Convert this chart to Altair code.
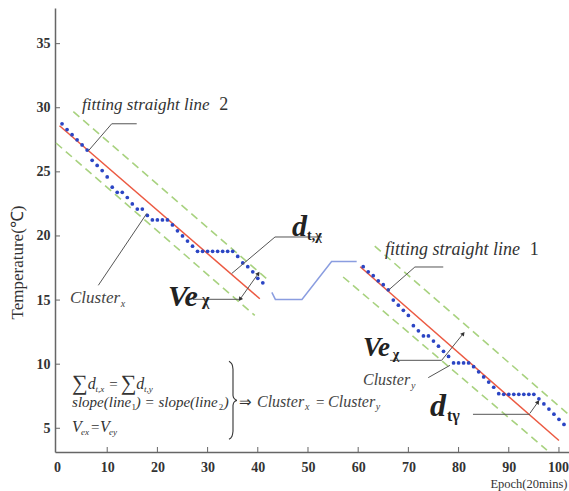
import altair as alt
import pandas as pd

# ---------------- data ----------------
epoch_x = list(range(1, 42))
temp_x = [28.75, 28.3, 27.9, 27.5, 27.1, 26.7, 25.9, 25.5, 25.1, 24.6,
          23.8, 23.4, 23.4, 23.0, 22.5, 22.1, 22.1, 21.6, 21.25, 21.25,
          21.25, 21.25, 20.86, 20.4, 20.0, 19.6, 19.2, 18.8, 18.8, 18.8,
          18.8, 18.8, 18.8, 18.8, 18.8, 18.4, 17.9, 17.6, 17.2, 16.7, 16.35]
epoch_y = list(range(61, 102))
temp_y = [17.6, 17.2, 16.9, 16.5, 16.2, 15.8, 15.0, 14.6, 14.2, 13.8,
          13.0, 12.6, 12.2, 12.2, 11.8, 11.4, 11.0, 10.6, 10.1, 10.1,
          10.1, 10.1, 9.8, 9.4, 9.0, 8.6, 8.2, 7.7, 7.65, 7.65,
          7.65, 7.65, 7.65, 7.65, 7.65, 7.3, 6.9, 6.5, 6.1, 5.7, 5.3]
gap_epoch = [42.8, 43.5, 48.8, 54.7, 59.7]
gap_temp = [15.6, 15.05, 15.05, 18.0, 18.0]

fit2_epoch = [0.5, 40.4]
fit2_temp = [28.6, 15.1]
fit1_epoch = [60.4, 100.0]
fit1_temp = [17.6, 4.05]
band2_up_epoch = [3.25, 42.1]
band2_up_temp = [29.7, 16.55]
band2_lo_epoch = [-0.2, 39.4]
band2_lo_temp = [27.25, 13.8]
band1_up_epoch = [63.3, 102.0]
band1_up_temp = [19.2, 6.05]
band1_lo_epoch = [57.0, 97.6]
band1_lo_temp = [16.8, 3.3]

x_ticks = [0, 10, 20, 30, 40, 50, 60, 70, 80, 90, 100]
y_ticks = [5, 10, 15, 20, 25, 30, 35]

W, H = 514, 444
FONT = "Liberation Serif"
xs = alt.Scale(domain=[-0.4, 102.0], nice=False, zero=False)
ys = alt.Scale(domain=[3.15, 37.78], nice=False, zero=False)


def X(f="x"):
    return alt.X(f + ":Q", scale=xs, axis=None)


def Y(f="y"):
    return alt.Y(f + ":Q", scale=ys, axis=None)


def line(ex, ty, color, width=1.5, dash=None):
    kw = dict(color=color, strokeWidth=width)
    if dash:
        kw["strokeDash"] = dash
    return alt.Chart(pd.DataFrame({"x": ex, "y": ty})).mark_line(**kw).encode(x=X(), y=Y())


GREEN = "#a8d27f"
RED = "#ec5a42"
dots_df = pd.DataFrame({"x": epoch_x + epoch_y, "y": temp_x + temp_y})
axis_common = dict(grid=False, ticks=False, domainColor="#666", domainWidth=1.5,
                   labelFont=FONT, labelFontSize=14, labelFontWeight="bold",
                   labelColor="#333", titleFont=FONT, titleColor="#333",
                   titleFontWeight="normal")
dots = alt.Chart(dots_df).mark_circle(size=14, color="#2b45c4", opacity=1).encode(
    x=alt.X("x:Q", scale=xs, axis=alt.Axis(
        values=x_ticks, title="Epoch(20mins)", labelPadding=8, labelFlush=False,
        labelOffset=alt.expr("datum.value === 100 ? -1 : 0"),
        titleFontSize=12.5, titleX=512, titleY=35, titleAlign="right",
        titleBaseline="alphabetic", **axis_common)),
    y=alt.Y("y:Q", scale=ys, axis=alt.Axis(
        values=y_ticks, title="Temperature(℃)", labelPadding=5, labelFlush=False,
        titleFontSize=17, titleX=-38, titleY=254, titleAngle=270,
        titleAlign="center", titleBaseline="middle", **axis_common)),
)

layers = [
    line(band2_up_epoch, band2_up_temp, GREEN, 1.6, [8, 5]),
    line(band2_lo_epoch, band2_lo_temp, GREEN, 1.6, [8, 5]),
    line(band1_up_epoch, band1_up_temp, GREEN, 1.6, [8, 5]),
    line(band1_lo_epoch, band1_lo_temp, GREEN, 1.6, [8, 5]),
    line(fit2_epoch, fit2_temp, RED, 1.5),
    line(fit1_epoch, fit1_temp, RED, 1.5),
    line(gap_epoch, gap_temp, "#8a9de0", 1.5),
    dots,
]

# inward tick marks
layers.append(alt.Chart(pd.DataFrame({"v": x_ticks[1:]})).mark_rule(color="#666", strokeWidth=1)
              .encode(x=X("v"), y=alt.value(H), y2=alt.value(H - 5)))
layers.append(alt.Chart(pd.DataFrame({"v": y_ticks})).mark_rule(color="#666", strokeWidth=1)
              .encode(y=Y("v"), x=alt.value(0), x2=alt.value(5)))

# leader lines (data coordinates)
seg_x = [6.23, 10.9, 8.23, 34.8, 43.43, 27.09, 36.45, 66.0, 71.3, 66.33, 76.63, 73.96, 82.87, 94.22]
seg_y = [26.63, 28.75, 16.15, 17.07, 19.92, 15.06, 15.06, 15.76, 17.58, 10.30, 10.30, 8.95, 6.09, 6.17]
seg_x2 = [10.9, 15.88, 17.87, 43.43, 52.8, 36.45, 40.1, 71.3, 76.95, 76.63, 80.94, 78.29, 94.22, 95.82]
seg_y2 = [28.75, 28.75, 21.75, 19.92, 19.92, 15.06, 17.07, 17.58, 17.58, 10.30, 12.39, 9.91, 6.09, 7.05]
segs = pd.DataFrame({"x": seg_x, "y": seg_y, "x2": seg_x2, "y2": seg_y2})
layers.append(alt.Chart(segs).mark_rule(color="#555", strokeWidth=1).encode(
    x=X(), y=Y(), x2="x2:Q", y2="y2:Q"))

# brace
brace_x = [34.26, 34.86, 35.06, 35.06, 35.26, 35.86, 35.26, 35.06, 35.06, 34.86, 34.26]
brace_y = [10.23, 9.99, 9.60, 7.57, 7.34, 7.18, 7.03, 6.79, 4.77, 4.38, 4.14]
layers.append(alt.Chart(pd.DataFrame({"x": brace_x, "y": brace_y, "o": list(range(len(brace_x)))}))
              .mark_line(color="#333", strokeWidth=1.1, interpolate="monotone")
              .encode(x=X(), y=Y(), order="o:Q"))

# arrow heads
heads = pd.DataFrame({"x": [40.1, 36.45, 80.94, 95.82], "y": [17.07, 15.06, 12.39, 7.05],
                      "a": [35, 215, 39, 35]})
layers.append(alt.Chart(heads).mark_point(shape="triangle-up", filled=True, size=22,
                                          color="#333", opacity=1)
              .encode(x=X(), y=Y(), angle=alt.Angle("a:Q", scale=None)))


def texts(items, size, style="normal", weight="normal", color="#333"):
    df = pd.DataFrame(items, columns=["t", "x", "y"])
    return alt.Chart(df).mark_text(align="left", baseline="alphabetic", font=FONT,
                                   fontSize=size, fontStyle=style, fontWeight=weight,
                                   color=color).encode(x=X(), y=Y(), text="t:N")


layers += [
    texts([("fitting straight line", 4.98, 29.8)], 17, "italic"),
    texts([("fitting straight line", 65.34, 18.5)], 18, "italic"),
    texts([("2", 32.3, 29.8), ("1", 94.2, 18.5)], 18),
    texts([("Cluster", 2.59, 14.75)], 17, "italic", color="#444"),
    texts([("Cluster", 60.96, 8.35), ("Cluster", 39.84, 6.64), ("Cluster", 54.0, 6.64)],
          16, "italic", color="#444"),
    texts([("x", 12.7, 14.44), ("y", 70.5, 8.04), ("x", 49.4, 6.4), ("y", 63.5, 6.4)],
          10, "italic", color="#444"),
    texts([("Ve", 22.1, 14.52), ("d", 46.8, 19.98)], 30, "italic", "bold", "#222"),
    texts([("Ve", 60.96, 10.62)], 27, "italic", "bold", "#222"),
    texts([("d", 74.3, 5.94)], 32, "italic", "bold", "#222"),
    texts([("χ", 28.9, 14.6), ("tγ", 77.7, 5.55)], 16, weight="bold", color="#222"),
    texts([("χ", 66.9, 10.38), ("t,χ", 49.8, 19.66)], 14, weight="bold", color="#222"),
    # equations
    texts([("∑", 3.0, 7.95), ("∑", 12.7, 7.95)], 22),
    texts([("d", 6.1, 8.1), ("d", 15.8, 8.1), ("V", 3.0, 4.69), ("V", 8.57, 4.69)],
          16, "italic"),
    texts([("t,x", 7.65, 7.83), ("t,y", 17.35, 7.83), ("ex", 4.78, 4.45), ("ey", 10.36, 4.45)],
          9, "italic"),
    texts([("=", 10.4, 8.1), ("=", 6.77, 4.69), ("=", 51.6, 6.64), ("⇒", 36.25, 6.64)], 15),
    texts([("slope(line", 3.0, 6.64), (") = slope(line", 15.7, 6.64), (")", 33.2, 6.64)],
          15, "italic"),
    texts([("1", 14.85, 6.41), ("2", 32.2, 6.41)], 9),
]

chart = alt.layer(*layers).resolve_axis(x="independent", y="independent").properties(
    width=W, height=H, autosize="none",
    padding={"left": 55, "top": 8, "right": 0, "bottom": 39},
    background="white",
).configure_view(stroke=None)

chart.save("out.html", embed_options={"renderer": "svg", "actions": False})
